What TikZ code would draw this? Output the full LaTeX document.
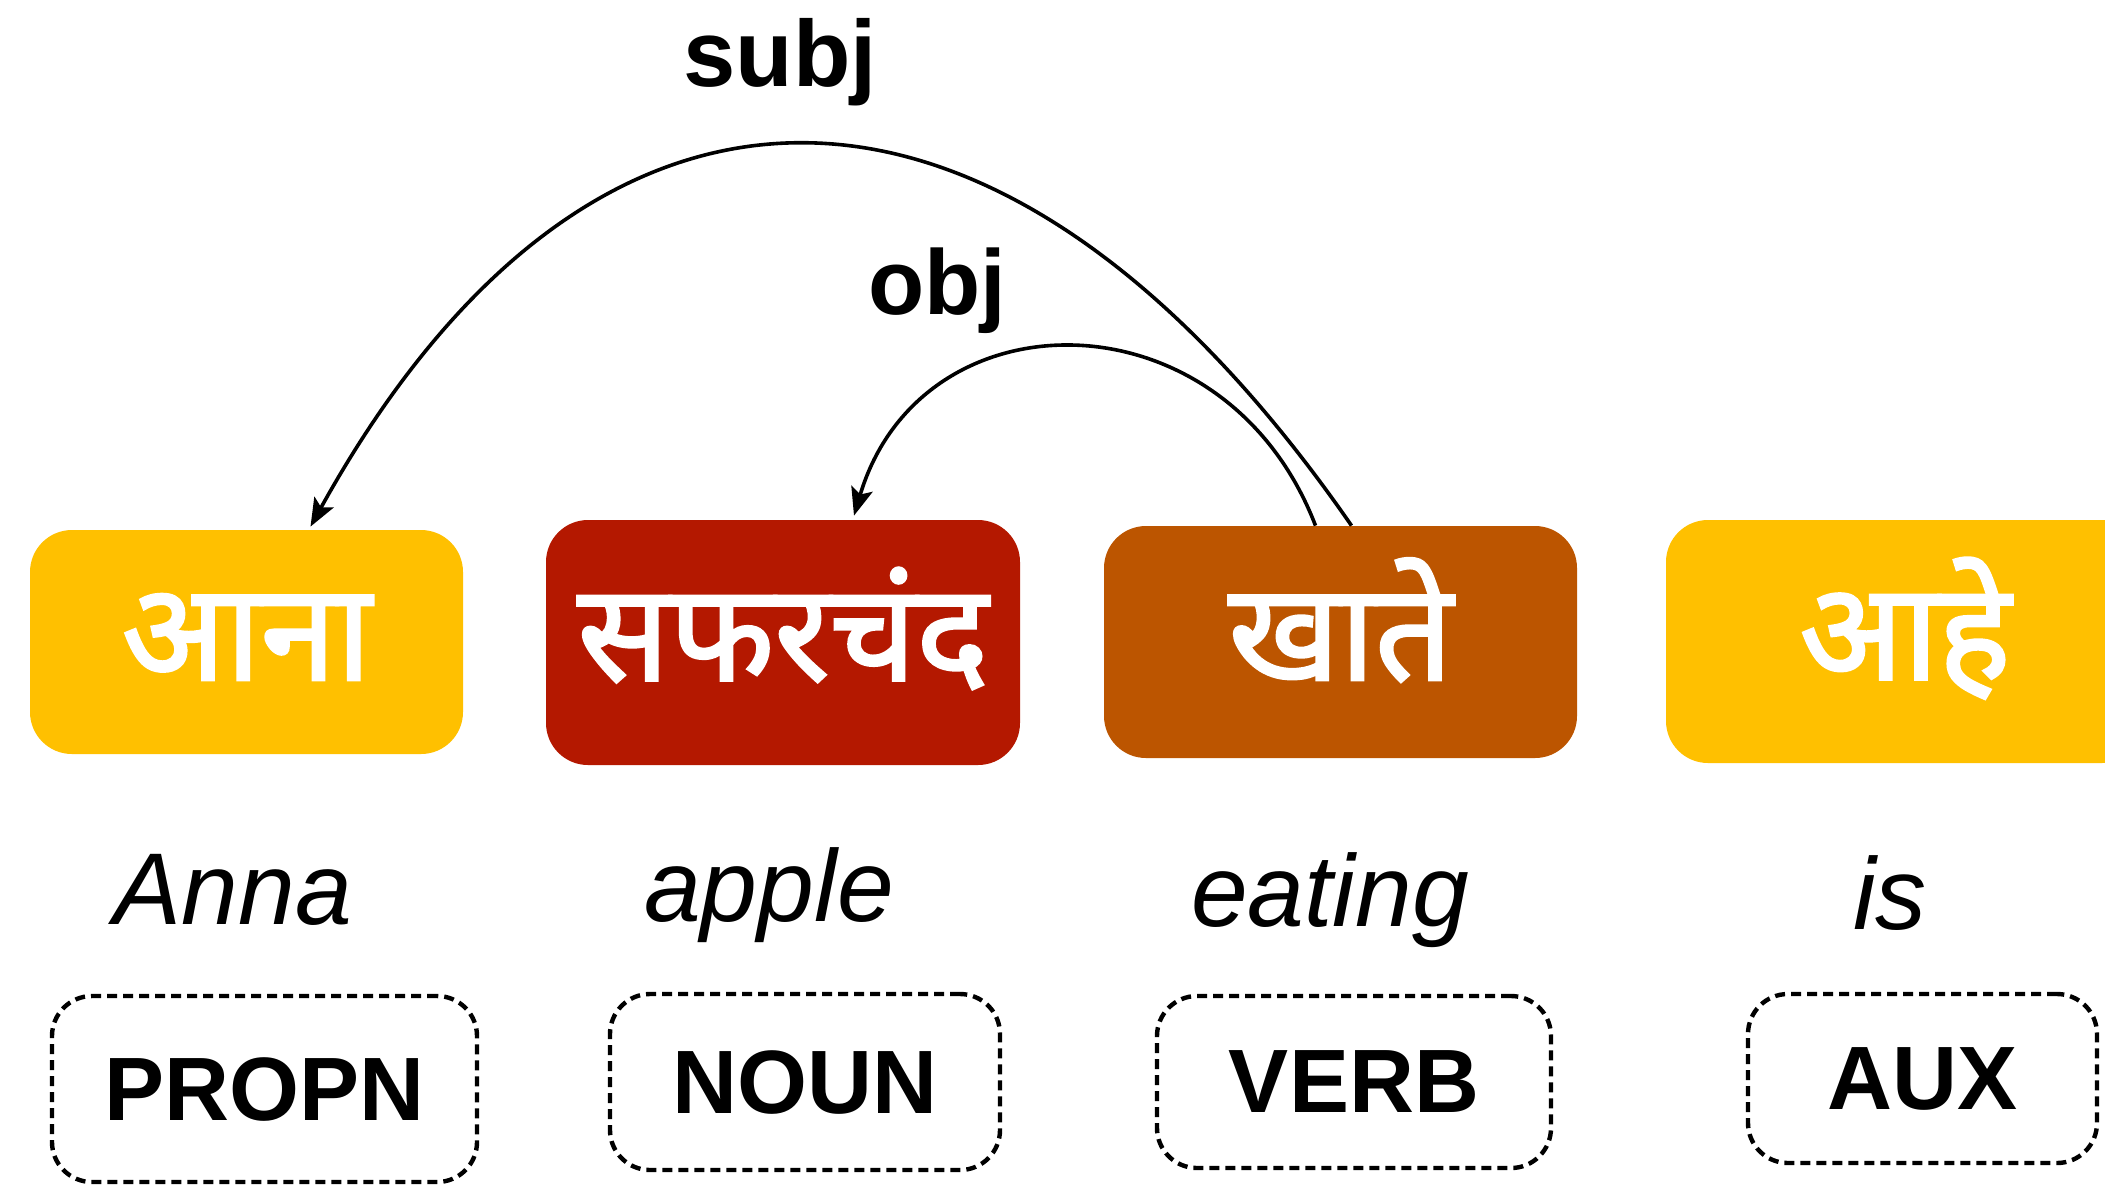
\documentclass[tikz,border=0pt]{standalone}
\usepackage{fontspec}
\setmainfont{Liberation Sans}
\newfontfamily\deva[Script=Devanagari, FakeBold=2]{Noto Sans}
\usetikzlibrary{arrows.meta}
\definecolor{gold}{HTML}{FFC000}
\definecolor{dred}{HTML}{B41800}
\definecolor{burnt}{HTML}{BC5500}
\begin{document}
\begin{tikzpicture}[x=0.5pt,y=-0.5pt,
  wbox/.style={rectangle, rounded corners=21pt, inner sep=0pt, text=white,
    font=\deva\fontsize{68}{68}\selectfont, text height=56pt, text depth=18pt},
  posbox/.style={rectangle, rounded corners=20pt, draw=black, line width=2.2pt,
    dash pattern=on 5pt off 3pt, inner sep=0pt, font=\bfseries\fontsize{45}{45}\selectfont},
  gloss/.style={anchor=base, font=\itshape\fontsize{51}{51}\selectfont},
  rel/.style={anchor=base, font=\bfseries\fontsize{47}{47}\selectfont},
  dep/.style={line width=1.8pt, -{Stealth[length=14pt,width=11pt,inset=3pt]}}]
\useasboundingbox (0,0) rectangle (2105,1185);
% word boxes
\node[wbox, fill=gold,  minimum width=216.5pt, minimum height=112pt]   (w1) at (246.5,642)  {आना};
\node[wbox, fill=dred,  minimum width=237pt,   minimum height=122.5pt] (w2) at (783,642.5)  {सफरचंद};
\node[wbox, fill=burnt, minimum width=236.5pt, minimum height=116pt]   (w3) at (1340.5,642) {खाते};
\node[wbox, fill=gold,  minimum width=239pt,   minimum height=121.5pt] (w4) at (1905,641.5) {आहे};
% glosses
\node[gloss] (g1) at (233,924)  {Anna};
\node[gloss] (g2) at (769,921)  {apple};
\node[gloss] (g3) at (1330,926) {eating};
\node[gloss] (g4) at (1890,929) {is};
% POS tags
\node[posbox, minimum width=212.5pt, minimum height=93pt]   (p1) at (264.5,1089)  {PROPN};
\node[posbox, minimum width=195pt,   minimum height=88pt]   (p2) at (805,1082)    {NOUN};
\node[posbox, minimum width=197pt,   minimum height=86pt]   (p3) at (1354,1082)   {VERB};
\node[posbox, minimum width=174.5pt, minimum height=84.5pt] (p4) at (1922.5,1078.5) {AUX};
% relation labels
\node[rel] (subj) at (780,86) {subj};
\node[rel, font=\bfseries\fontsize{46}{46}\selectfont] (obj) at (937,314) {obj};
% arcs
\draw[dep] ([xshift=5.5pt]w3.north) .. controls (1000,18) and (592,18) .. ([xshift=32pt,yshift=1.5pt]w1.north);
\draw[dep] ([xshift=-12.5pt]w3.north) .. controls (1225,290) and (921,290) .. ([xshift=35.5pt,yshift=2pt]w2.north);
\end{tikzpicture}
\end{document}
